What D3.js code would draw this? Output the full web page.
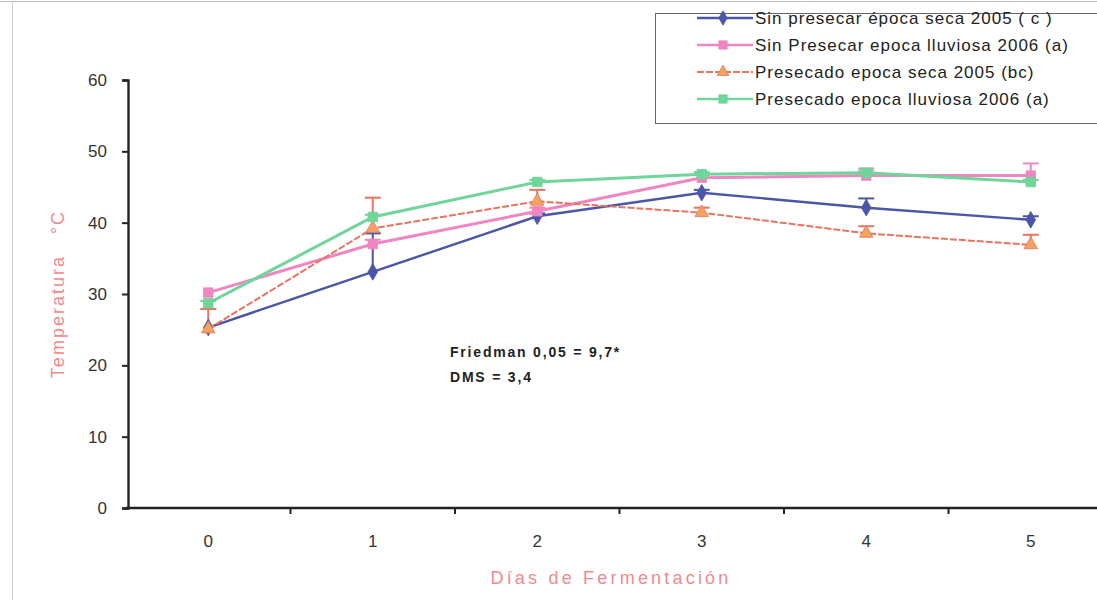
<!DOCTYPE html>
<html>
<head>
<meta charset="utf-8">
<script src="https://cdn.jsdelivr.net/npm/d3@7"></script>
<style>
  html, body { margin: 0; padding: 0; background: #fff; }
  svg { display: block; font-family: "Liberation Sans", Arial, sans-serif; }
</style>
</head>
<body>
<svg id="chart" width="1097" height="608"></svg>
<script>
// Fermentation days
const days = [0, 1, 2, 3, 4, 5];

// Mean temperature (°C) per treatment
const sinPresecarSeca2005   = [25.3, 33.1, 40.9, 44.2, 42.1, 40.4];
const sinPresecarLluvia2006 = [30.2, 37.0, 41.6, 46.3, 46.6, 46.6];
const presecadoSeca2005     = [25.1, 39.2, 43.0, 41.4, 38.5, 36.9];
const presecadoLluvia2006   = [28.7, 40.8, 45.7, 46.8, 47.0, 45.7];

// Upper error bars (°C)
const errSinPresecarSeca2005   = [0.0, 5.4, 0.4, 0.4, 1.3, 0.5];
const errSinPresecarLluvia2006 = [0.0, 0.6, 0.5, 0.4, 1.0, 1.7];
const errPresecadoSeca2005     = [2.8, 4.3, 1.6, 0.7, 1.0, 1.4];
const errPresecadoLluvia2006   = [0.3, 0.3, 0.3, 0.3, 0.3, 0.3];

const seriesNames = [
  "Sin presecar época seca 2005 ( c )",
  "Sin Presecar epoca lluviosa 2006 (a)",
  "Presecado epoca seca 2005 (bc)",
  "Presecado epoca lluviosa  2006 (a)"
];

const yTicks = [0, 10, 20, 30, 40, 50, 60];

const series = [
  { name: seriesNames[0], values: sinPresecarSeca2005, err: errSinPresecarSeca2005,
    line: "#4b56a8", fill: "#4b56a8", shape: d3.symbolDiamond, width: 2.4, dash: null, errColor: "#4b56a8" },
  { name: seriesNames[1], values: sinPresecarLluvia2006, err: errSinPresecarLluvia2006,
    line: "#ef86c2", fill: "#ef86c2", shape: d3.symbolSquare, width: 3, dash: null, errColor: "#ef86c2" },
  { name: seriesNames[2], values: presecadoSeca2005, err: errPresecadoSeca2005,
    line: "#e8735f", fill: "#f4a35c", shape: d3.symbolTriangle, width: 2, dash: "7,2", errColor: "#e8735f" },
  { name: seriesNames[3], values: presecadoLluvia2006, err: errPresecadoLluvia2006,
    line: "#6fd59a", fill: "#6fd59a", shape: d3.symbolSquare, width: 3, dash: null, errColor: "#6fd59a" }
];

const svg = d3.select("#chart");

// Outer frame of the chart area
svg.append("line").attr("x1", 0).attr("x2", 1097).attr("y1", 1.5).attr("y2", 1.5)
  .attr("stroke", "#bbb").attr("stroke-width", 1);
svg.append("line").attr("x1", 12.5).attr("x2", 12.5).attr("y1", 1).attr("y2", 600)
  .attr("stroke", "#ccc").attr("stroke-width", 1);

const x = d3.scaleBand().domain(days).range([126, 126 + 164.5 * days.length]);
const y = d3.scaleLinear().domain([0, 60]).range([508, 80]);
const cx = d => x(d) + x.bandwidth() / 2;

// Y axis
const yAxis = svg.append("g").attr("transform", `translate(${x.range()[0] + 2},0)`)
  .call(d3.axisLeft(y).tickValues(yTicks).tickSize(6).tickPadding(15));
yAxis.select(".domain").attr("stroke", "#222").attr("stroke-width", 2.4);
yAxis.selectAll(".tick line").attr("stroke", "#222").attr("stroke-width", 2);
yAxis.selectAll(".tick text").attr("fill", "#333").attr("font-size", 17)
  .attr("font-family", "Liberation Sans, Arial, sans-serif");

// X axis: baseline, boundary ticks, centred labels
const xg = svg.append("g");
xg.append("line").attr("x1", x.range()[0]).attr("x2", 1097)
  .attr("y1", y(0)).attr("y2", y(0)).attr("stroke", "#222").attr("stroke-width", 2.4);
xg.selectAll("line.tick").data(days.slice(1)).join("line")
  .attr("class", "tick")
  .attr("x1", d => x(d)).attr("x2", d => x(d))
  .attr("y1", y(0)).attr("y2", y(0) + 6)
  .attr("stroke", "#222").attr("stroke-width", 2);
xg.selectAll("text").data(days).join("text")
  .attr("x", d => cx(d)).attr("y", y(0) + 39)
  .attr("text-anchor", "middle").attr("fill", "#333").attr("font-size", 17)
  .text(d => d);

// Axis titles
svg.append("text")
  .attr("transform", `translate(64,${294}) rotate(-90)`)
  .attr("text-anchor", "middle").attr("fill", "#f08a8e").attr("font-size", 18)
  .attr("letter-spacing", 2)
  .style("white-space", "pre")
  .text("Temperatura   °C");
svg.append("text")
  .attr("x", 611).attr("y", 584)
  .attr("text-anchor", "middle").attr("fill", "#f08a8e").attr("font-size", 18)
  .attr("letter-spacing", 3.2)
  .text("Días de Fermentación");

// Statistics note
const note = svg.append("g").attr("font-weight", "bold").attr("font-size", 14)
  .attr("fill", "#222").attr("letter-spacing", 1.8);
note.append("text").attr("x", 450).attr("y", 357).text("Friedman 0,05 = 9,7*");
note.append("text").attr("x", 450).attr("y", 382).text("DMS = 3,4");

const lineGen = d3.line().x((v, i) => cx(days[i])).y(v => y(v));

// Error bars (upper only)
series.forEach(s => {
  const g = svg.append("g");
  s.values.forEach((v, i) => {
    if (s.err[i] <= 0) return;
    const xc = cx(days[i]);
    g.append("line").attr("x1", xc).attr("x2", xc)
      .attr("y1", y(v)).attr("y2", y(v + s.err[i]))
      .attr("stroke", s.errColor).attr("stroke-width", 2);
    g.append("line").attr("x1", xc - 8).attr("x2", xc + 8)
      .attr("y1", y(v + s.err[i])).attr("y2", y(v + s.err[i]))
      .attr("stroke", s.errColor).attr("stroke-width", 2);
  });
});

// Lines and markers
series.forEach(s => {
  svg.append("path").datum(s.values)
    .attr("d", lineGen).attr("fill", "none")
    .attr("stroke", s.line).attr("stroke-width", s.width)
    .attr("stroke-dasharray", s.dash);
  svg.append("g").selectAll("path").data(s.values).join("path")
    .attr("transform", (v, i) => `translate(${cx(days[i])},${y(v)})`)
    .attr("d", d3.symbol().type(s.shape).size(s.shape === d3.symbolSquare ? 90 : 80))
    .attr("fill", s.fill).attr("stroke", s.line).attr("stroke-width", 0.8);
});

// Legend
const legend = svg.append("g");
legend.append("rect").attr("x", 655.5).attr("y", 13.5).attr("width", 460).attr("height", 110)
  .attr("fill", "#fff").attr("stroke", "#666").attr("stroke-width", 1);
const legY = [18, 45, 72, 99];
series.forEach((s, i) => {
  const gy = legY[i];
  legend.append("line").attr("x1", 697).attr("x2", 753).attr("y1", gy).attr("y2", gy)
    .attr("stroke", s.line).attr("stroke-width", Math.min(s.width, 2.5))
    .attr("stroke-dasharray", s.dash);
  legend.append("path").attr("transform", `translate(723,${gy})`)
    .attr("d", d3.symbol().type(s.shape).size(s.shape === d3.symbolSquare ? 70 : 60))
    .attr("fill", s.fill).attr("stroke", s.line).attr("stroke-width", 0.8);
  legend.append("text").attr("x", 755).attr("y", gy + 6)
    .attr("fill", "#222").attr("font-size", 17).attr("letter-spacing", 1.0)
    .text(s.name);
});
</script>
</body>
</html>
